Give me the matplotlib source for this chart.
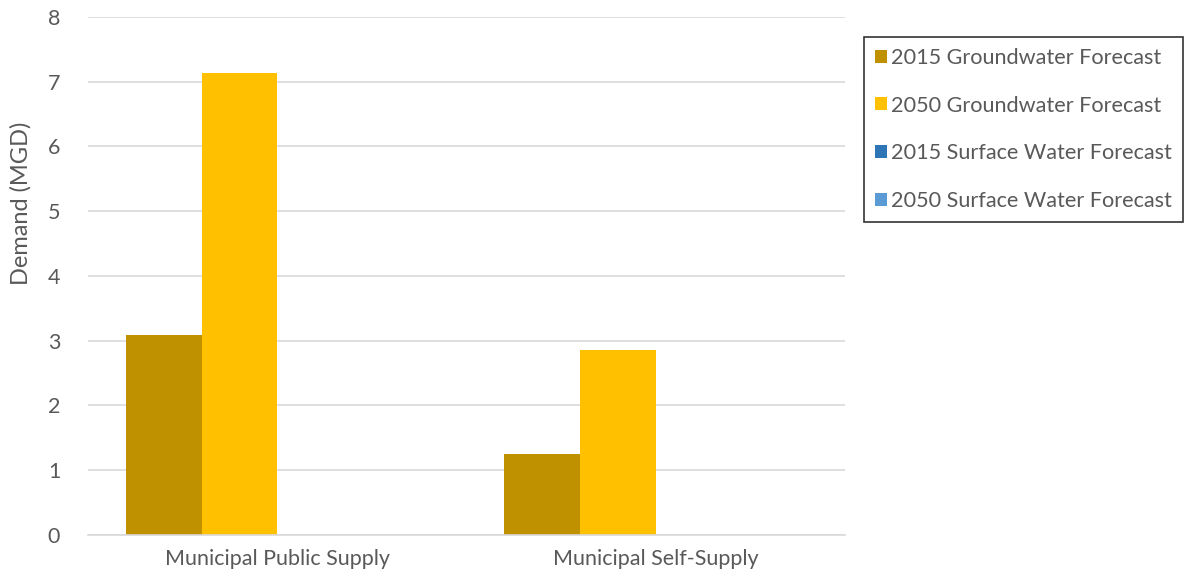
import matplotlib.pyplot as plt
import numpy as np

categories = ['Municipal Public Supply', 'Municipal Self-Supply']
series_names = ['2015 Groundwater Forecast', '2050 Groundwater Forecast',
                '2015 Surface Water Forecast', '2050 Surface Water Forecast']
gw_2015 = [3.09, 1.25]
gw_2050 = [7.13, 2.86]
sw_2015 = [0, 0]
sw_2050 = [0, 0]
colors = ['#BF9000', '#FFC000', '#2E75B6', '#5B9BD5']

plt.rcParams['font.family'] = ['Lato', 'DejaVu Sans']
text_color = '#595959'

fig = plt.figure(figsize=(11.86, 5.82), dpi=100)
ax = fig.add_axes([0.0742, 0.0808, 0.638, 0.89])

x = np.arange(len(categories))
width = 0.2
series = [gw_2015, gw_2050, sw_2015, sw_2050]
handles = []
for i, (vals, name, c) in enumerate(zip(series, series_names, colors)):
    b = ax.bar(x + (i - 1.5) * width, vals, width, color=c, label=name)
    handles.append(b)

ax.set_xlim(-0.5, 1.5)
ax.set_ylim(0, 8)
ax.set_yticks(range(0, 9))
ax.set_xticks(x)
ax.set_xticklabels(categories)
ax.yaxis.grid(True, color='#D9D9D9', linewidth=1.2)
ax.set_axisbelow(True)
for s in ['top', 'right', 'left']:
    ax.spines[s].set_visible(False)
ax.spines['bottom'].set_color('#D9D9D9')
ax.spines['bottom'].set_linewidth(1.2)
ax.tick_params(axis='both', length=0, colors=text_color, labelsize=15.5)
ax.tick_params(axis='x', pad=10)
ax.tick_params(axis='y', pad=20)

# y label sits above the axis centre in the original
fig.text(21 / 1186, 1 - 203 / 582, 'Demand (MGD)', rotation=90, color=text_color,
         fontsize=17, ha='center', va='center')

leg = fig.legend(handles=handles, labels=series_names, loc='upper left',
                 bbox_to_anchor=(864 / 1186, 1 - 37 / 582), fontsize=15.6, frameon=True,
                 fancybox=False, edgecolor='black', labelcolor=text_color,
                 handlelength=0.55, handleheight=0.55, handletextpad=0.2,
                 labelspacing=1.28, borderpad=0.5, borderaxespad=0)
leg.get_frame().set_linewidth(1.2)

fig.savefig('out.png', dpi=100)
